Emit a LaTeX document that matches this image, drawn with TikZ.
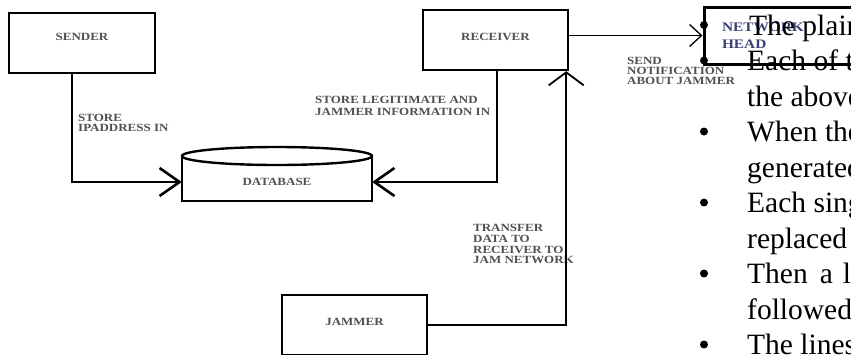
\documentclass[tikz,border=0pt]{standalone}
\usepackage{fontspec}
\usepackage{xcolor}
\usepackage{tikz}
\usetikzlibrary{arrows.meta,calc}
\newfontfamily\diagfont[FakeStretch=1.18]{Liberation Serif}
\newfontfamily\pagefont{Liberation Serif}
\definecolor{lblgray}{HTML}{505050}
\definecolor{netblue}{HTML}{3b3f76}

\begin{document}
\begin{tikzpicture}[
  x=1pt,y=-1pt,
  font=\diagfont\bfseries\fontsize{11}{11}\selectfont,
  box/.style={draw,line width=2.4pt,minimum width=145pt,minimum height=60pt,inner sep=0pt,text height=7.2pt,text depth=6pt,text=lblgray},
  dbtext/.style={minimum width=190pt,inner sep=0pt,text height=7.2pt,text depth=0pt,text=lblgray},
  dbline/.style={line width=2.4pt},
  netbox/.style={draw,line width=3pt,minimum width=202pt,minimum height=57pt,text width=166pt,align=left,inner xsep=18pt,inner ysep=0pt,text=netblue,font=\diagfont\bfseries\fontsize{13}{17}\selectfont},
  lbl/.style={anchor=north west,align=left,inner sep=0pt,text=lblgray},
  bigarr/.style={-{Straight Barb[length=20pt,width=28pt]},line width=2.6pt},
  midarr/.style={-{Straight Barb[length=13pt,width=35pt]},line width=1.8pt},
  thinarr/.style={-{Straight Barb[length=12pt,width=22pt]},line width=1.3pt},
  pagetext/.style={anchor=base west,inner sep=0pt,font=\pagefont\fontsize{29.5}{30}\selectfont},
  dot/.style={circle,fill,inner sep=0pt,minimum size=8pt}]
  \useasboundingbox (0,0) rectangle (851,354);
  \clip (0,0) rectangle (851,354);
  % boxes
  \node[box,minimum width=146pt,text depth=12pt] (sender) at (82,43) {SENDER};
  \node[box] (receiver) at (495.5,40) {RECEIVER};
  \node[box] (jammer) at (354.5,325) {JAMMER};
  \node[dbtext] (db) at (277,182) {DATABASE};
  \draw[dbline] (db.west |- 0,156) -- (db.west |- 0,201) -- (db.east |- 0,201) -- (db.east |- 0,156);
  \draw[dbline] (db.north |- 0,156) ellipse [x radius=95pt,y radius=9pt];
  \node[netbox] (net) at (805,35.5) {NETWORK\\HEAD};
  % labels
  \node[lbl,font=\diagfont\bfseries\fontsize{11}{10}\selectfont] (ipl) at (78,114.4) {STORE\\IPADDRESS IN};
  \node[lbl,font=\diagfont\bfseries\fontsize{11}{12}\selectfont] (legl) at (315,96.4) {STORE LEGITIMATE AND\\JAMMER INFORMATION IN};
  \node[lbl,font=\diagfont\bfseries\fontsize{11}{10}\selectfont] (notl) at (627,57.4) {SEND\\NOTIFICATION\\ABOUT JAMMER};
  \node[lbl,font=\diagfont\bfseries\fontsize{11}{10.7}\selectfont] (trl) at (473,224.4) {TRANSFER\\DATA TO\\RECEIVER TO\\JAM NETWORK};
  % connectors
  \draw[bigarr] ([xshift=-10pt]sender.south) |- (db.west);
  \draw[bigarr] ([xshift=1.5pt]receiver.south) |- (db.east);
  \draw[midarr] (jammer.east) -| ([xshift=-3pt]receiver.south east);
  \draw[thinarr] (receiver.east |- net.west) -- (net.west);
  % page text
  \node[dot] (b1) at (704,25) {};
  \node[dot] (b2) at (704,60.5) {};
  \node[dot] (b4) at (704,131.5) {};
  \node[dot] (b6) at (704,202.5) {};
  \node[dot] (b8) at (704,273.5) {};
  \node[dot] (b10) at (704,344.5) {};
  \node[pagetext] (t1) at (749,35) {The plain};
  \node[pagetext] (t2) at (747,70.5) {Each of t};
  \node[pagetext] (t3) at (747,106) {the above};
  \node[pagetext] (t4) at (747,141.5) {When the};
  \node[pagetext] (t5) at (747,177) {generated};
  \node[pagetext] (t6) at (747,212.5) {Each sing};
  \node[pagetext] (t7) at (747,248) {replaced};
  \node[pagetext] (t8) at (747,283.5) {Then\hspace{12pt}a\hspace{10pt}l};
  \node[pagetext] (t9) at (747,319) {followed};
  \node[pagetext] (t10) at (747,354.5) {The lines};
\end{tikzpicture}
\end{document}
